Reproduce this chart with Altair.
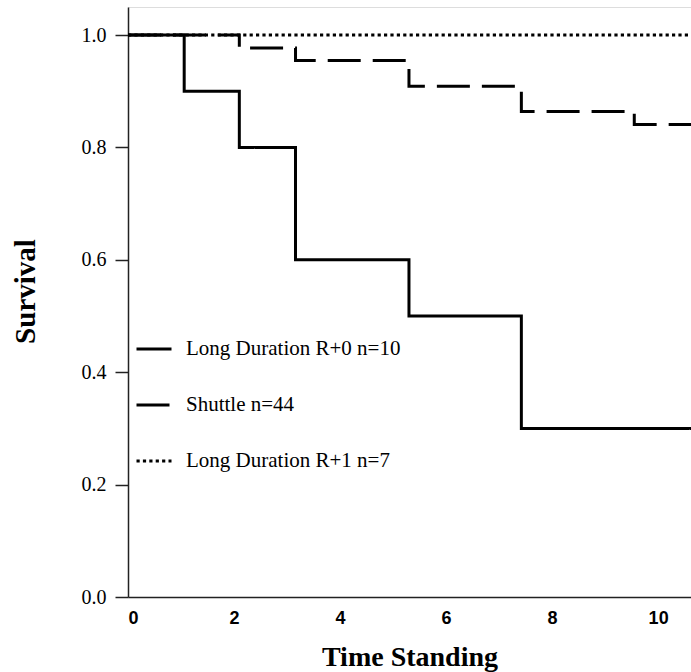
import altair as alt
import pandas as pd

# ---- data ----
series_names = ["Long Duration R+0 n=10", "Shuttle n=44", "Long Duration R+1 n=7"]

r0_time = [0, 1.06, 2.10, 3.16, 5.30, 7.42, 10.62]
r0_surv = [1.0, 0.9, 0.8, 0.6, 0.5, 0.3, 0.3]

sh_time = [0, 2.10, 3.16, 5.30, 7.42, 9.55, 10.62]
sh_surv = [1.0, 0.977, 0.955, 0.909, 0.864, 0.841, 0.841]

r1_time = [0, 10.62]
r1_surv = [1.0, 1.0]

x_ticks = [0, 2, 4, 6, 8, 10]
y_ticks = [0.0, 0.2, 0.4, 0.6, 0.8, 1.0]

rows = []
for name, ts, ss in zip(series_names, [r0_time, sh_time, r1_time], [r0_surv, sh_surv, r1_surv]):
    for t, s in zip(ts, ss):
        rows.append({"series": name, "time": t, "survival": s})
df = pd.DataFrame(rows)

chart = alt.Chart(df).mark_line(
    interpolate="step-after", strokeWidth=3, color="black", clip=True
).encode(
    x=alt.X(
        "time:Q",
        scale=alt.Scale(domain=[0, 10.62], nice=False, zero=False),
        axis=alt.Axis(
            values=x_ticks, format="d", ticks=False, grid=False,
            labelFont="Liberation Sans", labelFontWeight="bold", labelFontSize=18,
            labelColor="black", labelPadding=12,
            domainColor="#222", domainWidth=1.5,
            title="Time Standing", titleFont="Liberation Serif", titleFontWeight="bold",
            titleFontSize=28, titleColor="black", titleY=68, titleBaseline="alphabetic",
        ),
    ),
    y=alt.Y(
        "survival:Q",
        scale=alt.Scale(domain=[0, 1.05], nice=False),
        axis=alt.Axis(
            values=y_ticks, format=".1f", grid=False,
            tickSize=13, tickColor="#222", tickWidth=1.5,
            labelFont="Liberation Serif", labelFontSize=20, labelColor="black", labelPadding=9,
            domainColor="#222", domainWidth=1.5,
            title="Survival", titleFont="Liberation Serif", titleFontWeight="bold",
            titleFontSize=29, titleColor="black", titleAngle=270,
            titleX=-94, titleY=284, titleBaseline="alphabetic", titleAlign="center",
        ),
    ),
    strokeDash=alt.StrokeDash(
        "series:N",
        scale=alt.Scale(domain=series_names, range=[[1, 0], [33, 12], [3.2, 3.2]]),
        legend=alt.Legend(
            orient="none", legendX=7, legendY=323, title=None,
            symbolType="stroke", symbolSize=1225, symbolStrokeWidth=3,
            symbolStrokeColor="black",
            labelFont="Liberation Serif", labelFontSize=21, labelColor="black",
            labelOffset=13, rowPadding=27, labelLimit=400,
        ),
    ),
).properties(
    width=563, height=590,
    autosize=alt.AutoSizeParams(type="none"),
    padding={"left": 128, "top": 7, "right": 0, "bottom": 75},
).configure_view(stroke=None).configure(background="white")

chart.save("out.html", embed_options={"renderer": "svg", "actions": False})
